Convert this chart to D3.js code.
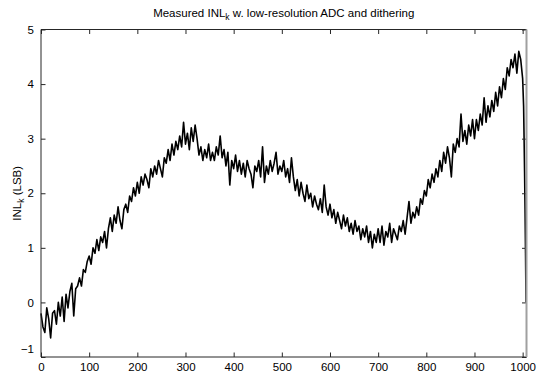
<!DOCTYPE html>
<html>
<head>
<meta charset="utf-8">
<script src="https://cdn.jsdelivr.net/npm/d3@7/dist/d3.min.js"></script>
<style>
  html, body { margin: 0; padding: 0; background: #fff; }
  svg { display: block; }
  text { font-family: "Liberation Sans", Arial, sans-serif; fill: #000; }
</style>
</head>
<body>
<svg id="chart" width="540" height="373"></svg>
<script>
// ---- data ----
const titleMain = "Measured INL";
const titleSub = "k";
const titleRest = " w. low-resolution ADC and dithering";
const xTicks = [0, 100, 200, 300, 400, 500, 600, 700, 800, 900, 1000];
const yTicks = [-1, 0, 1, 2, 3, 4, 5];
const xDomain = [0, 1008];
const yDomain = [-1, 5];

// INL read every 4 codes (0, 4, ..., 1000)
const inlMain = [
  // 0-96
  -0.20,-0.45,-0.55,-0.10,-0.30, -0.65,-0.20,-0.15,-0.40,0.00, -0.25,0.10,-0.35,0.15,-0.10, 0.20,0.35,-0.25,0.25,0.30, 0.45,0.30,0.60,0.55,0.75,
  // 100-196
  0.85,0.70,1.00,0.90,1.15, 0.95,1.20,1.10,1.30,1.00, 1.35,1.55,1.30,1.60,1.45, 1.75,1.50,1.35,1.70,1.80, 1.65,1.95,1.85,2.10,1.95,
  // 200-296
  2.20,2.00,2.30,2.15,2.35, 2.25,2.10,2.45,2.30,2.50, 2.35,2.60,2.45,2.30,2.65, 2.55,2.80,2.60,2.90,2.70, 2.95,2.80,3.05,2.85,3.30,
  // 300-396
  2.90,3.10,2.80,3.20,2.95, 3.25,3.00,2.70,2.85,2.60, 2.80,2.65,2.90,2.60,2.75, 2.60,2.85,2.70,3.05,2.65, 2.80,2.50,2.75,2.15,2.60,
  // 400-496
  2.45,2.70,2.40,2.60,2.35, 2.55,2.30,2.60,2.45,2.35, 2.10,2.50,2.40,2.60,2.30, 2.85,2.20,2.50,2.35,2.60, 2.40,2.55,2.75,2.35,2.50,
  // 500-596
  2.40,2.60,2.30,2.45,2.20, 2.65,2.30,2.05,2.25,1.95, 2.20,2.00,1.85,2.15,1.90, 2.00,1.75,1.95,1.80,1.70, 1.90,1.65,2.15,1.75,1.60,
  // 600-696
  1.80,1.55,1.70,1.45,1.65, 1.50,1.35,1.60,1.40,1.55, 1.30,1.45,1.25,1.50,1.30, 1.40,1.15,1.35,1.20,1.40, 1.10,1.30,1.00,1.25,1.10,
  // 700-796
  1.35,1.10,1.40,1.05,1.30, 1.20,1.45,1.10,1.35,1.25, 1.15,1.40,1.30,1.50,1.25, 1.55,1.85,1.45,1.65,1.55, 1.75,1.60,1.90,1.80,2.05,
  // 800-896
  1.95,2.25,2.10,2.35,2.20, 2.45,2.30,2.60,2.40,2.75, 2.55,2.85,2.65,2.30,2.90, 2.75,3.00,2.85,3.45,2.95, 3.15,2.90,3.25,3.05,3.35,
  // 900-996
  3.00,3.35,3.15,3.45,3.25, 3.75,3.30,3.60,3.40,3.70, 3.50,3.85,3.60,3.95,3.75, 4.10,3.90,4.30,4.15,4.45, 4.30,4.55,4.20,4.60,4.45,
  // 1000
  4.10
];
// steep tail at the top of the code range
const tailCodes = [1002, 1003, 1004, 1005, 1006, 1007];
const tailInl = [3.60, 3.00, 2.40, 1.70, 0.90, 0.00];

const codes = d3.range(0, 1001, 4).concat(tailCodes);
const inl = inlMain.concat(tailInl);

// ---- layout ----
const svg = d3.select("#chart");
const mLeft = 41, mRight = 526.5, mTop = 29.5, mBottom = 357;

const x = d3.scaleLinear().domain(xDomain).range([mLeft, mRight]);
const y = d3.scaleLinear().domain(yDomain).range([mBottom, mTop]);

// data line
const pts = codes.map((c, i) => [c, inl[i]]);
svg.append("path")
  .datum(pts)
  .attr("fill", "none")
  .attr("stroke", "#000")
  .attr("stroke-width", 1.6)
  .attr("stroke-linejoin", "round")
  .attr("d", d3.line().x(d => x(d[0])).y(d => y(d[1])));

const tickLen = 4.5;
const axisColor = "#262626";

const gb = svg.append("g").attr("transform", `translate(0,${mBottom})`)
  .call(d3.axisBottom(x).tickValues(xTicks).tickSize(-tickLen).tickPadding(6).tickFormat(d3.format("d")));
const gt = svg.append("g").attr("transform", `translate(0,${mTop})`)
  .call(d3.axisTop(x).tickValues(xTicks).tickSize(-tickLen).tickFormat(""));
const gl = svg.append("g").attr("transform", `translate(${mLeft},0)`)
  .call(d3.axisLeft(y).tickValues(yTicks).tickSize(-tickLen).tickPadding(7).tickFormat(d3.format("d")));
const gr = svg.append("g").attr("transform", `translate(${mRight},0)`)
  .call(d3.axisRight(y).tickValues(yTicks).tickSize(-tickLen).tickFormat(""));

[gb, gt, gl, gr].forEach(g => {
  g.select(".domain").remove();
  g.selectAll(".tick line").attr("stroke", axisColor).attr("stroke-width", 1);
  g.selectAll("text").attr("font-size", 11.5).attr("fill", "#000")
    .attr("font-family", '"Liberation Sans", Arial, sans-serif');
});
// MATLAB lifts the lowest y label
gl.selectAll(".tick").filter(d => d === -1).select("text").attr("dy", "-0.35em");

// box
svg.append("line").attr("x1", mLeft).attr("x2", mRight).attr("y1", mBottom).attr("y2", mBottom).attr("stroke", axisColor);
svg.append("line").attr("x1", mLeft).attr("x2", mRight).attr("y1", mTop).attr("y2", mTop).attr("stroke", axisColor);
svg.append("line").attr("x1", mLeft).attr("x2", mLeft).attr("y1", mTop).attr("y2", mBottom).attr("stroke", axisColor);
svg.append("line").attr("x1", mRight).attr("x2", mRight).attr("y1", mTop).attr("y2", mBottom).attr("stroke", "#a0a0a0").attr("stroke-width", 2);

// title
const t = svg.append("text").attr("x", (mLeft + mRight) / 2).attr("y", 17)
  .attr("text-anchor", "middle").attr("font-size", 11.5);
t.append("tspan").text(titleMain);
t.append("tspan").attr("dy", 3).attr("font-size", 8.5).text(titleSub);
t.append("tspan").attr("dy", -3).text(titleRest);

// y label
const yl = svg.append("text")
  .attr("transform", `translate(21,${(mTop + mBottom) / 2}) rotate(-90)`)
  .attr("text-anchor", "middle").attr("font-size", 11.5);
yl.append("tspan").text("INL");
yl.append("tspan").attr("dy", 3).attr("font-size", 8.5).text("k");
yl.append("tspan").attr("dy", -3).text(" (LSB)");
</script>
</body>
</html>
